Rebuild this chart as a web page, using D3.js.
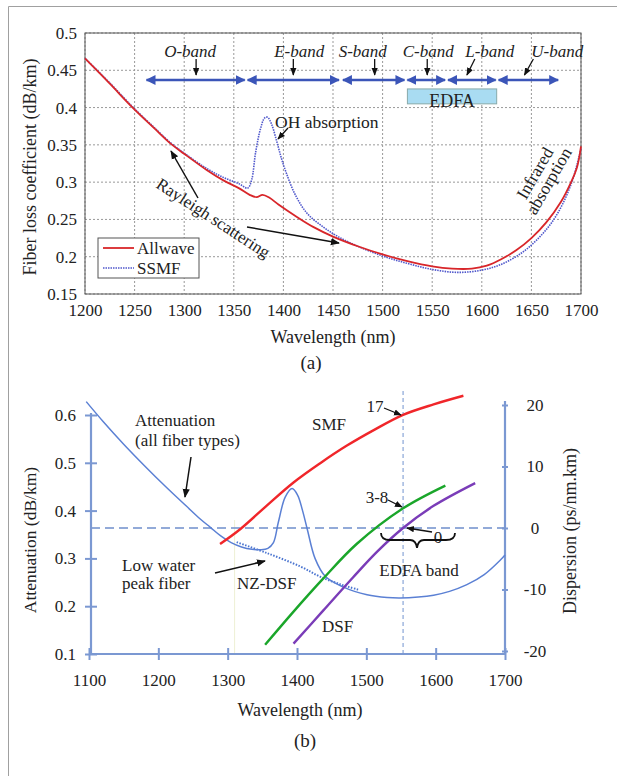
<!DOCTYPE html>
<html>
<head>
<meta charset="utf-8">
<script src="https://cdn.jsdelivr.net/npm/d3@7/dist/d3.min.js"></script>
<style>
body { margin: 0; background: #fff; }
svg text { font-family: "Liberation Serif", "Times New Roman", serif; fill: #222; }
</style>
</head>
<body>
<div id="chart"></div>
<script>
// ---- panel (a) data ----
var allwave = [[1200,0.466],[1225,0.432],[1248,0.400],[1270,0.372],[1286,0.352],[1300,0.338],[1323,0.316],
  [1340,0.302],[1355,0.292],[1366,0.283],[1373,0.280],[1379,0.283],[1386,0.279],[1395,0.270],[1414,0.253],
  [1430,0.240],[1450,0.227],[1475,0.214],[1500,0.203],[1525,0.194],[1550,0.187],[1570,0.184],[1590,0.184],
  [1605,0.188],[1620,0.197],[1635,0.209],[1650,0.225],[1665,0.246],[1680,0.274],[1690,0.300],[1696,0.320],[1700,0.348]];
var ssmf = [[1200,0.466],[1225,0.433],[1248,0.401],[1270,0.373],[1286,0.353],[1300,0.339],[1323,0.318],
  [1340,0.306],[1355,0.298],[1364,0.292],[1368,0.303],[1372,0.340],[1377,0.372],[1381,0.386],[1384,0.387],
  [1388,0.378],[1393,0.356],[1398,0.332],[1403,0.312],[1412,0.283],[1424,0.258],[1440,0.240],[1455,0.227],
  [1475,0.214],[1500,0.201],[1525,0.191],[1550,0.183],[1575,0.179],[1600,0.182],[1620,0.190],[1640,0.205],
  [1655,0.222],[1670,0.245],[1682,0.272],[1692,0.305],[1700,0.345]];
var xTicksA = [1200,1250,1300,1350,1400,1450,1500,1550,1600,1650,1700];
var yTicksA = [0.15,0.2,0.25,0.3,0.35,0.4,0.45,0.5];
var bandNames = ["O-band","E-band","S-band","C-band","L-band","U-band"];
var bandStart = [1262,1364,1460,1525,1566,1617];
var bandEnd   = [1361,1456,1522,1563,1614,1677];
var bandLabelAt = [1306,1416,1480,1546,1608,1676];
var bandArrowFrom = [1312,1410,1492,1545,1593,1652];
var bandArrowTo   = [1312,1410,1492,1545,1585,1643];
var edfaBox = [1525,1615];

// ---- panel (b) data ----
var attenuation = [[1096,0.628],[1120,0.587],[1150,0.539],[1180,0.494],[1210,0.451],[1240,0.410],[1260,0.383],
  [1275,0.365],[1290,0.347],[1305,0.333],[1320,0.324],[1335,0.319],[1348,0.318],[1358,0.321],[1366,0.333],
  [1373,0.375],[1383,0.428],[1393,0.446],[1401,0.432],[1408,0.400],[1415,0.360],[1426,0.300],[1441,0.262],
  [1467,0.240],[1501,0.224],[1530,0.218],[1549,0.217],[1575,0.219],[1597,0.223],[1620,0.231],[1645,0.245],
  [1670,0.266],[1693,0.296],[1700,0.307]];
var lowWater = [[1313,0.334],[1357,0.311],[1405,0.283],[1433,0.262],[1462,0.246],[1490,0.234]];
var smf   = [[1289,-2.6],[1318,-0.2],[1356,3.6],[1395,7.4],[1433,10.5],[1472,13.4],[1512,16.0],[1553,18.4],[1597,20.1],[1640,21.5]];
var nzdsf = [[1354,-19],[1395,-13.6],[1438,-8.2],[1486,-2.6],[1553,3.2],[1614,6.9]];
var dsf   = [[1395,-18.8],[1438,-13.4],[1481,-8.0],[1516,-3.8],[1553,0],[1597,3.6],[1657,7.3]];
var xTicksB = [1100,1200,1300,1400,1500,1600,1700];
var yTicksB = [0.1,0.2,0.3,0.4,0.5,0.6];
var dTicksB = [-20,-10,0,10,20];

var serif = "'Liberation Serif', 'Times New Roman', serif";
var svg = d3.select("#chart").append("svg").attr("width", 617).attr("height", 776);

// outer frame
svg.append("path").attr("d", "M8.5,776V6.5H617").attr("fill", "none").attr("stroke", "#a0a0a0");

svg.append("defs").append("marker").attr("id", "ah").attr("viewBox", "0 0 10 10")
  .attr("refX", 9).attr("refY", 5).attr("markerWidth", 6).attr("markerHeight", 6)
  .attr("orient", "auto-start-reverse")
  .append("path").attr("d", "M0,1L10,5L0,9Z").attr("fill", "#111");
svg.select("defs").append("marker").attr("id", "bh").attr("viewBox", "0 0 10 10")
  .attr("refX", 9).attr("refY", 5).attr("markerWidth", 4).attr("markerHeight", 4)
  .attr("orient", "auto-start-reverse")
  .append("path").attr("d", "M0,0L10,5L0,10Z").attr("fill", "#3b55b8");

// ================= panel (a) =================
var xA = d3.scaleLinear().domain([1200, 1700]).range([85, 581]);
var yA = d3.scaleLinear().domain([0.15, 0.5]).range([294, 33]);

var gA = svg.append("g");
gA.selectAll(".gx").data(xTicksA).enter().append("line")
  .attr("x1", d => xA(d)).attr("x2", d => xA(d)).attr("y1", 33).attr("y2", 294)
  .attr("stroke", "#999").attr("stroke-dasharray", "2,2");
gA.selectAll(".gy").data(yTicksA).enter().append("line")
  .attr("x1", 85).attr("x2", 581).attr("y1", d => yA(d)).attr("y2", d => yA(d))
  .attr("stroke", "#999").attr("stroke-dasharray", "2,2");
gA.append("rect").attr("x", 85).attr("y", 33).attr("width", 496).attr("height", 261)
  .attr("fill", "none").attr("stroke", "#555");

var axA = gA.append("g").attr("transform", "translate(0,294)")
  .call(d3.axisBottom(xA).tickValues(xTicksA).tickSize(0).tickPadding(10).tickFormat(d3.format("d")));
axA.select(".domain").remove();
axA.selectAll("text").attr("font-size", 17);
var ayA = gA.append("g").attr("transform", "translate(85,0)")
  .call(d3.axisLeft(yA).tickValues(yTicksA).tickSize(0).tickPadding(8).tickFormat(d => String(+d.toFixed(2))));
ayA.select(".domain").remove();
ayA.selectAll("text").attr("font-size", 17);

var lineA = d3.line().x(d => xA(d[0])).y(d => yA(d[1])).curve(d3.curveCatmullRom);
gA.append("path").datum(ssmf).attr("d", lineA).attr("fill", "none")
  .attr("stroke", "#5058cc").attr("stroke-width", 1.6).attr("stroke-dasharray", "1.5,1");
gA.append("path").datum(allwave).attr("d", lineA).attr("fill", "none")
  .attr("stroke", "#d8262a").attr("stroke-width", 1.8);

// bands
bandNames.forEach(function(name, i) {
  gA.append("line").attr("x1", xA(bandStart[i])).attr("x2", xA(bandEnd[i]))
    .attr("y1", 80).attr("y2", 80).attr("stroke", "#3b55b8").attr("stroke-width", 2.5)
    .attr("marker-start", "url(#bh)").attr("marker-end", "url(#bh)");
  gA.append("text").attr("x", xA(bandLabelAt[i])).attr("y", 57).attr("text-anchor", "middle")
    .attr("font-size", 17).attr("font-style", "italic").text(name);
  gA.append("line").attr("x1", xA(bandArrowFrom[i])).attr("x2", xA(bandArrowTo[i]))
    .attr("y1", 59).attr("y2", 75).attr("stroke", "#111").attr("stroke-width", 1.3)
    .attr("marker-end", "url(#ah)");
});
gA.append("rect").attr("x", xA(edfaBox[0])).attr("y", yA(0.425)).attr("width", xA(edfaBox[1]) - xA(edfaBox[0]))
  .attr("height", yA(0.405) - yA(0.425)).attr("fill", "#a9dcf2").attr("stroke", "#8aa");
gA.append("text").attr("x", xA(1570)).attr("y", 107).attr("text-anchor", "middle").attr("font-size", 18).text("EDFA");

gA.append("text").attr("x", 275).attr("y", 128).attr("font-size", 17.5).text("OH absorption");
gA.append("line").attr("x1", 288).attr("y1", 128).attr("x2", 278).attr("y2", 139)
  .attr("stroke", "#111").attr("stroke-width", 1.3).attr("marker-end", "url(#ah)");

gA.append("text").attr("transform", "translate(155,187) rotate(33)").attr("font-size", 17).text("Rayleigh scattering");
gA.append("line").attr("x1", 198).attr("y1", 198).attr("x2", 171).attr("y2", 151)
  .attr("stroke", "#111").attr("stroke-width", 1.5).attr("marker-end", "url(#ah)");
gA.append("line").attr("x1", 247).attr("y1", 227).attr("x2", 339).attr("y2", 243)
  .attr("stroke", "#111").attr("stroke-width", 1.5).attr("marker-end", "url(#ah)");

var ir = gA.append("g").attr("transform", "translate(540,176) rotate(-60)");
ir.append("text").attr("text-anchor", "middle").attr("font-size", 17.5).text("Infrared");
ir.append("text").attr("y", 16).attr("text-anchor", "middle").attr("font-size", 17.5).text("absorption");

// legend
gA.append("rect").attr("x", 98).attr("y", 238).attr("width", 101).attr("height", 40)
  .attr("fill", "#fff").attr("stroke", "#555");
gA.append("line").attr("x1", 103).attr("x2", 134).attr("y1", 248).attr("y2", 248).attr("stroke", "#d8262a").attr("stroke-width", 1.8);
gA.append("line").attr("x1", 103).attr("x2", 134).attr("y1", 268).attr("y2", 268).attr("stroke", "#5058cc")
  .attr("stroke-width", 1.6).attr("stroke-dasharray", "1.5,1");
gA.append("text").attr("x", 137).attr("y", 254).attr("font-size", 17).text("Allwave");
gA.append("text").attr("x", 137).attr("y", 274).attr("font-size", 17).text("SSMF");

gA.append("text").attr("transform", "translate(36,167) rotate(-90)").attr("text-anchor", "middle")
  .attr("font-size", 18).text("Fiber loss coefficient (dB/km)");
gA.append("text").attr("x", 333).attr("y", 343).attr("text-anchor", "middle").attr("font-size", 18).text("Wavelength (nm)");
gA.append("text").attr("x", 311).attr("y", 369).attr("text-anchor", "middle").attr("font-size", 19).text("(a)");

// ================= panel (b) =================
var xB = d3.scaleLinear().domain([1100, 1700]).range([89, 505]);
var yB = d3.scaleLinear().domain([0.1, 0.6]).range([654, 415]);
var dB = d3.scaleLinear().domain([-20, 20]).range([651, 405]);
var axisCol = "#7b98d2";
var gB = svg.append("g");

// faint vertical guide
gB.append("line").attr("x1", xB(1310)).attr("x2", xB(1310)).attr("y1", 520).attr("y2", 654)
  .attr("stroke", "#eef0d4").attr("stroke-width", 1);
gB.append("line").attr("x1", 91).attr("x2", 505).attr("y1", dB(0)).attr("y2", dB(0))
  .attr("stroke", "#6f8fcc").attr("stroke-width", 1.3).attr("stroke-dasharray", "9,5");
gB.append("line").attr("x1", xB(1553)).attr("x2", xB(1553)).attr("y1", 391).attr("y2", 654)
  .attr("stroke", "#8aa6d8").attr("stroke-width", 1.2).attr("stroke-dasharray", "4,3");

var bx = gB.append("g").attr("transform", "translate(0,654)")
  .call(d3.axisBottom(xB).tickValues(xTicksB).tickSize(6).tickPadding(14).tickFormat(d3.format("d")));
bx.select(".domain").attr("stroke", axisCol).attr("stroke-width", 2.2).attr("d", "M89,0H505");
bx.selectAll(".tick line").attr("stroke", axisCol).attr("stroke-width", 2).attr("y1", -6).attr("y2", 6);
bx.selectAll("text").attr("font-size", 17);

var by = gB.append("g").attr("transform", "translate(91,0)")
  .call(d3.axisLeft(yB).tickValues(yTicksB).tickSize(6).tickPadding(9).tickFormat(d => String(+d.toFixed(1))));
by.select(".domain").attr("stroke", axisCol).attr("stroke-width", 2.2).attr("d", "M0,413V654");
by.selectAll(".tick line").attr("stroke", axisCol).attr("stroke-width", 2).attr("x1", -6).attr("x2", 6);
by.selectAll("text").attr("font-size", 17);

var bd = gB.append("g").attr("transform", "translate(505,0)")
  .call(d3.axisRight(dB).tickValues(dTicksB).tickSize(3).tickPadding(16).tickFormat(d => String(d)));
bd.select(".domain").attr("stroke", axisCol).attr("stroke-width", 2.2).attr("d", "M0,401V654");
bd.selectAll(".tick line").attr("stroke", axisCol).attr("stroke-width", 2).attr("x1", -3).attr("x2", 3);
bd.selectAll("text").attr("font-size", 17).attr("text-anchor", "middle").attr("x", 30);

var lineAtt = d3.line().x(d => xB(d[0])).y(d => yB(d[1])).curve(d3.curveCatmullRom);
var lineDisp = d3.line().x(d => xB(d[0])).y(d => dB(d[1])).curve(d3.curveCatmullRom);
gB.append("path").datum(lowWater).attr("d", lineAtt).attr("fill", "none")
  .attr("stroke", "#4a74d0").attr("stroke-width", 2).attr("stroke-dasharray", "1.5,1.5");
gB.append("path").datum(attenuation).attr("d", lineAtt).attr("fill", "none")
  .attr("stroke", "#5b80d4").attr("stroke-width", 1.5);
gB.append("path").datum(smf).attr("d", lineDisp).attr("fill", "none").attr("stroke", "#f0262a").attr("stroke-width", 2.4);
gB.append("path").datum(nzdsf).attr("d", lineDisp).attr("fill", "none").attr("stroke", "#1aa62a").attr("stroke-width", 2.4);
gB.append("path").datum(dsf).attr("d", lineDisp).attr("fill", "none").attr("stroke", "#7a3cb8").attr("stroke-width", 2.4);

// annotations (b)
gB.append("text").attr("x", 135).attr("y", 426).attr("font-size", 17).text("Attenuation");
gB.append("text").attr("x", 135).attr("y", 446).attr("font-size", 17).text("(all fiber types)");
gB.append("line").attr("x1", 191).attr("y1", 457).attr("x2", 185).attr("y2", 497)
  .attr("stroke", "#111").attr("stroke-width", 1.5).attr("marker-end", "url(#ah)");
gB.append("text").attr("x", 312).attr("y", 430).attr("font-size", 17).text("SMF");
gB.append("text").attr("x", 375).attr("y", 412).attr("text-anchor", "middle").attr("font-size", 17).text("17");
gB.append("line").attr("x1", 384).attr("y1", 408).attr("x2", 401).attr("y2", 415)
  .attr("stroke", "#111").attr("stroke-width", 1.3).attr("marker-end", "url(#ah)");
gB.append("text").attr("x", 377).attr("y", 503).attr("text-anchor", "middle").attr("font-size", 17).text("3-8");
gB.append("line").attr("x1", 388).attr("y1", 500).attr("x2", 402).attr("y2", 507)
  .attr("stroke", "#111").attr("stroke-width", 1.3).attr("marker-end", "url(#ah)");
gB.append("text").attr("x", 438).attr("y", 543).attr("text-anchor", "middle").attr("font-size", 17).text("0");
gB.append("line").attr("x1", 432).attr("y1", 532).attr("x2", 407).attr("y2", 528)
  .attr("stroke", "#111").attr("stroke-width", 1.3).attr("marker-end", "url(#ah)");
gB.append("path").attr("d", "M381,533Q381,540 390,540H410Q416,540 417,548Q418,540 424,540H446Q455,540 455,533")
  .attr("fill", "none").attr("stroke", "#111").attr("stroke-width", 1.8);
gB.append("text").attr("x", 419).attr("y", 576).attr("text-anchor", "middle").attr("font-size", 17).text("EDFA band");
gB.append("text").attr("x", 122).attr("y", 571).attr("font-size", 17).text("Low water");
gB.append("text").attr("x", 122).attr("y", 589).attr("font-size", 17).text("peak fiber");
gB.append("line").attr("x1", 215).attr("y1", 573).attr("x2", 265).attr("y2", 561)
  .attr("stroke", "#111").attr("stroke-width", 1.5).attr("marker-end", "url(#ah)");
gB.append("text").attr("x", 237).attr("y", 589).attr("font-size", 17).text("NZ-DSF");
gB.append("text").attr("x", 322).attr("y", 632).attr("font-size", 17).text("DSF");

gB.append("text").attr("transform", "translate(36,540) rotate(-90)").attr("text-anchor", "middle")
  .attr("font-size", 17.5).text("Attenuation (dB/km)");
gB.append("text").attr("transform", "translate(576,531) rotate(-90)").attr("text-anchor", "middle")
  .attr("font-size", 18).text("Dispersion (ps/nm.km)");
gB.append("text").attr("x", 300).attr("y", 716).attr("text-anchor", "middle").attr("font-size", 18).text("Wavelength (nm)");
gB.append("text").attr("x", 305).attr("y", 747).attr("text-anchor", "middle").attr("font-size", 19).text("(b)");

// same serif face everywhere, axes included
svg.selectAll("text").attr("font-family", serif).attr("fill", "#222");
</script>
</body>
</html>
